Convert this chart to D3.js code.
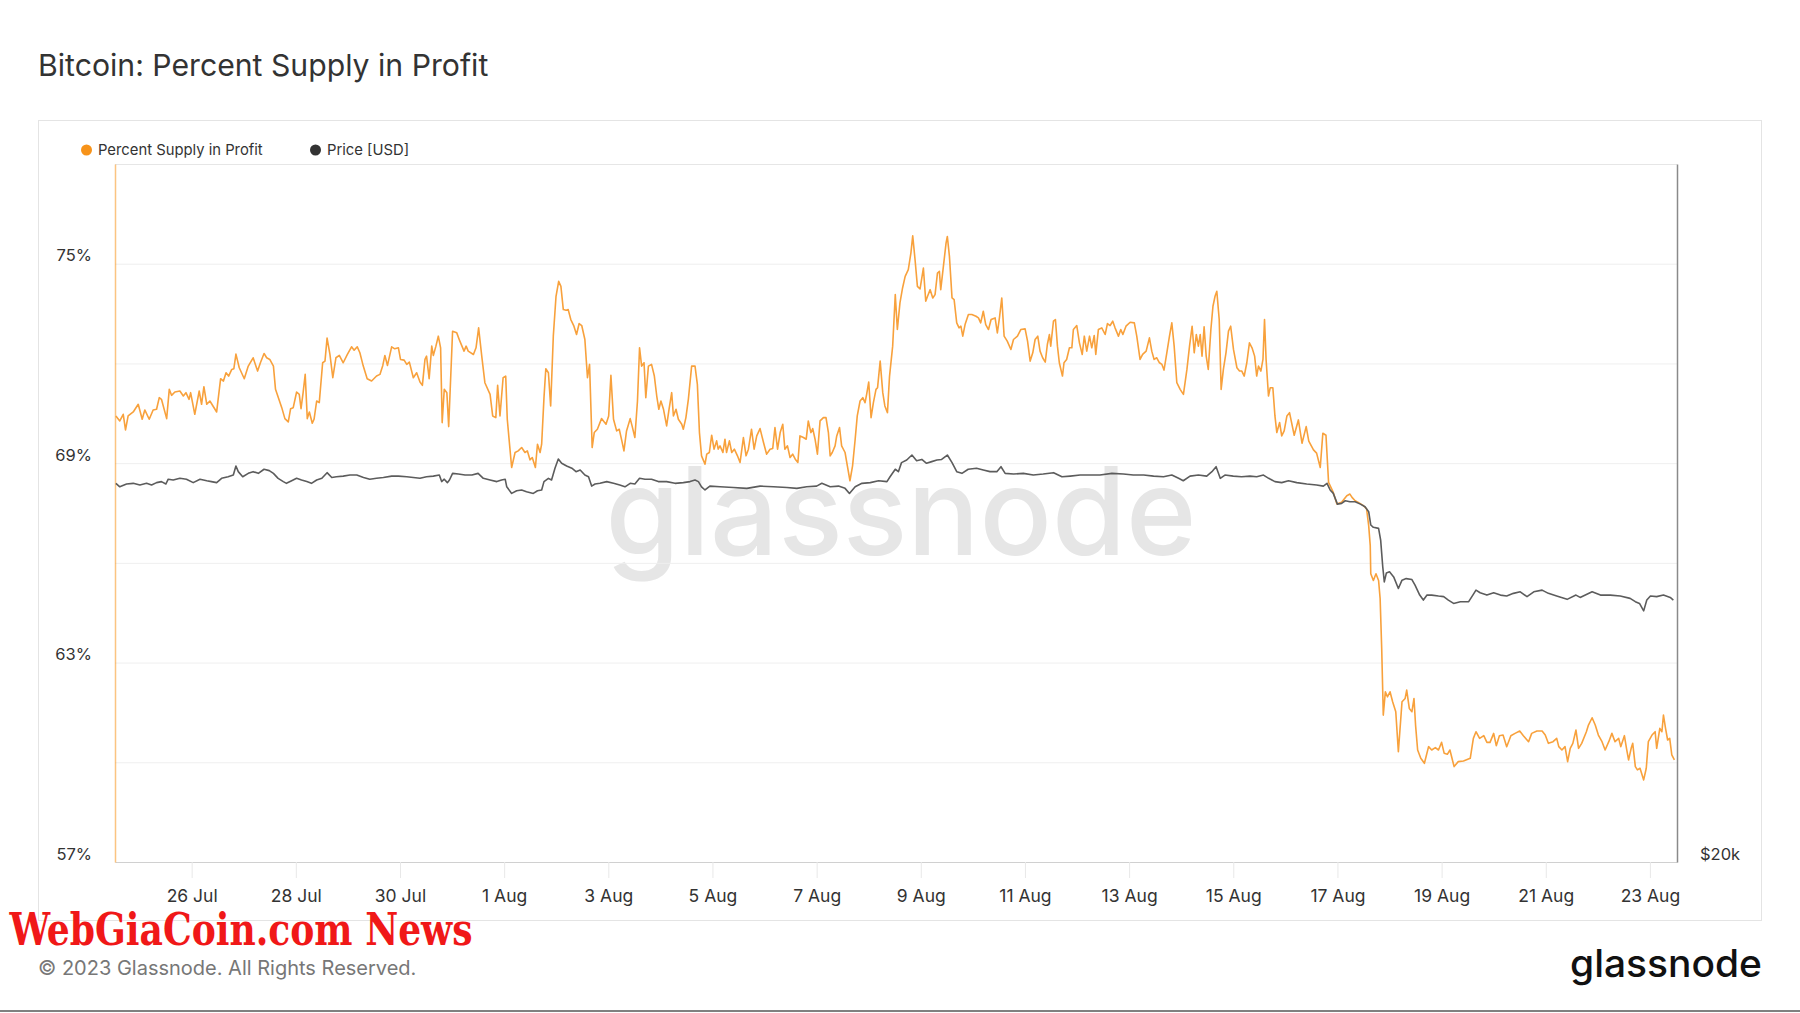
<!DOCTYPE html>
<html><head><meta charset="utf-8">
<script src="https://cdn.jsdelivr.net/npm/d3@7"></script>
<style>
body{margin:0;background:#fff;}
svg{display:block;font-family:Inter,"Open Sans",sans-serif;}
</style></head>
<body><svg id="c" width="1800" height="1013"></svg>
<script>
// ---------- DATA ----------
const titleText = "Bitcoin: Percent Supply in Profit";
const seriesNames = ["Percent Supply in Profit", "Price [USD]"];
const seriesColors = ["#f7931a", "#333333"];
const baseDate = Date.UTC(2023, 6, 24); // 24 Jul 2023 00:00 UTC, x values are days after it
const xDomainDays = [0.528, 30.52];
const xTickDays = [2, 4, 6, 8, 10, 12, 14, 16, 18, 20, 22, 24, 26, 28, 30];
const xTickLabels = ["26 Jul","28 Jul","30 Jul","1 Aug","3 Aug","5 Aug","7 Aug","9 Aug","11 Aug","13 Aug","15 Aug","17 Aug","19 Aug","21 Aug","23 Aug"];
const leftDomain = [57, 78];
const leftTickValues = [57, 63, 69, 75];
const gridValues = [60, 63, 66, 69, 72, 75];
const rightDomain = [20000, 40000];
const rightTickValues = [20000];
const rightTickLabels = ["$20k"];

// Percent Supply in Profit: [day, percent]
const psip = [
[0.545,70.42],[0.62,70.27],[0.686,70.47],[0.73,70.0],[0.78,70.42],[0.878,70.54],[0.974,70.77],[1.05,70.32],[1.10,70.6],[1.185,70.32],[1.26,70.6],[1.326,70.62],[1.378,70.97],[1.42,70.92],[1.52,70.34],[1.57,71.22],[1.614,71.04],[1.678,71.14],[1.774,71.17],[1.84,71.02],[1.89,71.12],[1.95,70.92],[1.98,71.12],[2.06,70.47],[2.145,71.17],[2.19,70.77],[2.235,71.3],[2.29,70.77],[2.35,70.87],[2.48,70.54],[2.556,71.54],[2.61,71.47],[2.66,71.72],[2.71,71.62],[2.77,71.82],[2.81,71.84],[2.85,72.28],[2.914,71.87],[3.01,71.54],[3.087,71.92],[3.18,72.17],[3.266,71.77],[3.32,72.02],[3.39,72.3],[3.44,72.17],[3.50,72.12],[3.57,71.92],[3.61,71.22],[3.73,70.67],[3.79,70.34],[3.855,70.24],[3.90,70.64],[3.95,70.67],[4.015,71.14],[4.066,71.07],[4.10,70.64],[4.14,71.12],[4.18,71.67],[4.22,70.34],[4.26,70.54],[4.316,70.2],[4.35,70.32],[4.40,70.87],[4.45,70.82],[4.515,72.02],[4.56,72.07],[4.60,72.76],[4.655,72.27],[4.71,71.57],[4.77,72.17],[4.835,72.24],[4.91,72.02],[4.99,72.27],[5.07,72.5],[5.12,72.4],[5.18,72.5],[5.23,72.32],[5.295,71.92],[5.37,71.54],[5.455,71.47],[5.55,71.62],[5.615,71.67],[5.67,71.94],[5.71,72.24],[5.76,71.94],[5.84,72.5],[5.90,72.44],[5.97,72.47],[6.01,72.12],[6.08,72.1],[6.13,71.97],[6.18,72.04],[6.256,71.57],[6.32,71.72],[6.384,71.44],[6.43,71.34],[6.48,72.12],[6.51,72.22],[6.56,71.54],[6.61,72.52],[6.64,72.24],[6.69,72.52],[6.736,72.82],[6.78,72.47],[6.81,70.22],[6.85,71.22],[6.90,71.12],[6.935,70.1],[7.01,72.97],[7.09,72.92],[7.15,72.67],[7.23,72.37],[7.27,72.52],[7.31,72.37],[7.41,72.27],[7.46,72.47],[7.51,73.07],[7.57,72.22],[7.63,71.42],[7.73,71.07],[7.78,70.42],[7.84,70.37],[7.875,71.34],[7.92,70.42],[7.98,71.57],[8.03,71.62],
[8.06,70.32],[8.144,68.87],[8.21,69.32],[8.27,69.37],[8.336,69.47],[8.40,69.32],[8.445,69.37],[8.496,69.1],[8.54,69.17],[8.60,68.87],[8.64,69.57],[8.69,69.32],[8.72,69.57],[8.765,70.97],[8.80,71.84],[8.85,71.72],[8.893,70.72],[8.944,72.82],[8.996,74.02],[9.047,74.47],[9.09,74.32],[9.136,73.62],[9.19,73.6],[9.23,73.62],[9.28,73.32],[9.34,73.12],[9.39,72.87],[9.44,73.2],[9.49,73.14],[9.55,72.72],[9.60,71.57],[9.64,71.97],[9.69,69.47],[9.73,69.92],[9.79,70.02],[9.87,70.34],[9.956,70.17],[10.007,70.42],[10.05,71.64],[10.10,70.32],[10.16,69.97],[10.21,70.02],[10.26,69.67],[10.30,69.37],[10.35,69.97],[10.42,70.34],[10.46,70.1],[10.51,69.77],[10.56,70.87],[10.60,72.47],[10.64,71.92],[10.686,72.02],[10.72,70.97],[10.77,71.92],[10.83,71.97],[10.884,71.62],[10.93,71.02],[10.97,70.62],[11.01,70.87],[11.06,70.62],[11.12,70.12],[11.166,70.62],[11.217,71.12],[11.25,70.42],[11.30,70.62],[11.345,70.32],[11.41,70.17],[11.44,70.02],[11.49,70.37],[11.537,70.92],[11.60,71.92],[11.665,71.92],[11.71,71.37],[11.75,69.92],[11.79,69.22],[11.857,68.97],[11.89,69.27],[11.94,69.32],[11.985,69.84],[12.03,69.42],[12.08,69.67],[12.11,69.42],[12.145,69.52],[12.20,69.32],[12.24,69.72],[12.27,69.32],[12.325,69.67],[12.37,69.32],[12.42,69.42],[12.48,69.22],[12.53,69.02],[12.594,69.77],[12.645,69.22],[12.69,69.42],[12.75,70.02],[12.80,69.42],[12.85,69.82],[12.914,70.04],[12.98,69.62],[13.04,69.27],[13.106,69.42],[13.157,69.44],[13.20,70.07],[13.25,69.42],[13.30,69.92],[13.35,70.17],[13.39,69.42],[13.44,69.52],[13.49,69.17],[13.54,69.27],[13.59,69.12],[13.64,69.02],[13.68,69.82],[13.746,69.77],[13.80,69.72],[13.84,70.27],[13.89,69.92],[13.925,70.04],[13.97,69.72],[14.015,69.27],[14.066,70.27],[14.13,70.37],[14.18,70.37],[14.226,69.92],[14.26,69.22],[14.30,69.32],[14.354,69.52],[14.386,69.82],[14.44,70.07],[14.48,69.52],[14.546,69.32],[14.59,68.92],[14.64,68.47],[14.69,68.92],[14.74,69.72],[14.78,70.42],[14.834,70.87],[14.886,70.97],[14.93,70.82],[14.96,71.07],[15.0,71.44],[15.045,70.37],[15.09,70.82],[15.14,71.22],[15.17,71.27],[15.22,72.07],[15.27,71.12],[15.31,70.72],[15.36,70.52],[15.40,71.62],
[15.46,72.52],[15.51,74.07],[15.55,73.02],[15.60,73.82],[15.65,74.27],[15.70,74.62],[15.76,74.82],[15.81,75.32],[15.845,75.84],[15.89,75.12],[15.935,74.32],[15.986,74.24],[16.05,74.87],[16.095,73.87],[16.13,74.02],[16.18,74.22],[16.23,73.97],[16.274,74.07],[16.32,74.72],[16.357,74.77],[16.383,74.22],[16.434,74.92],[16.485,75.62],[16.51,75.82],[16.55,75.22],[16.60,73.97],[16.64,73.92],[16.69,73.22],[16.735,73.07],[16.77,73.12],[16.806,72.82],[16.85,73.17],[16.914,73.47],[16.98,73.47],[17.06,73.42],[17.107,73.37],[17.15,73.22],[17.20,73.57],[17.247,73.17],[17.30,73.02],[17.35,73.32],[17.427,73.37],[17.47,72.92],[17.51,73.37],[17.555,73.97],[17.60,72.82],[17.66,72.67],[17.73,72.42],[17.78,72.72],[17.856,72.82],[17.92,73.02],[18.003,73.04],[18.05,72.67],[18.10,72.07],[18.15,72.32],[18.195,72.72],[18.246,72.82],[18.29,72.37],[18.34,72.17],[18.39,72.04],[18.43,72.57],[18.47,72.87],[18.495,72.52],[18.547,73.27],[18.585,73.32],[18.624,72.52],[18.66,72.02],[18.72,71.62],[18.75,72.02],[18.80,72.12],[18.854,72.47],[18.90,72.47],[18.93,73.02],[18.995,73.14],[19.046,72.62],[19.10,72.27],[19.14,72.82],[19.187,72.37],[19.24,72.82],[19.283,72.47],[19.33,72.84],[19.36,72.27],[19.41,73.02],[19.475,73.07],[19.54,72.87],[19.584,73.2],[19.635,73.14],[19.686,73.27],[19.73,73.07],[19.795,72.82],[19.84,73.02],[19.88,72.87],[19.94,73.12],[20.02,73.24],[20.10,73.22],[20.147,72.82],[20.21,72.12],[20.26,72.27],[20.327,72.37],[20.39,72.77],[20.435,72.37],[20.48,72.12],[20.53,72.17],[20.583,72.02],[20.63,71.97],[20.67,71.8],[20.724,72.32],[20.775,72.82],[20.82,73.22],[20.865,72.52],[20.916,71.42],[20.98,71.22],[21.043,71.07],[21.11,71.82],[21.16,72.52],[21.21,73.12],[21.25,72.32],[21.29,72.87],[21.33,72.52],[21.365,72.87],[21.40,72.22],[21.44,73.1],[21.48,72.22],[21.52,71.82],[21.57,73.02],[21.61,73.72],[21.65,74.02],[21.684,74.17],[21.73,73.32],[21.767,71.22],[21.81,71.82],[21.86,72.32],[21.908,72.97],[21.95,73.12],[22.004,72.42],[22.07,71.87],[22.12,71.77],[22.164,71.77],[22.21,71.62],[22.26,72.02],[22.31,72.62],[22.36,72.47],[22.41,72.22],[22.45,71.62],[22.484,71.92],[22.53,71.77],[22.57,72.12],[22.60,73.32],[22.63,72.12],[22.676,71.02],[22.71,71.27],[22.76,71.27],[22.80,70.42],[22.836,69.92],[22.89,70.22],[22.93,69.82],[22.977,69.97],[23.03,70.42],[23.08,70.52],
[23.17,69.84],[23.25,70.3],[23.32,69.6],[23.40,70.1],[23.45,69.66],[23.54,69.4],[23.6,69.3],[23.67,68.87],[23.72,69.9],[23.78,69.84],[23.83,68.42],[23.92,68.12],[23.99,67.77],[24.08,67.82],[24.18,68.02],[24.24,68.07],[24.28,67.97],[24.34,67.87],[24.40,67.82],[24.5,67.72],[24.56,67.62],[24.6,67.12],[24.63,66.52],[24.64,65.67],[24.69,65.47],[24.74,65.67],[24.79,65.47],[24.82,64.92],[24.85,63.42],[24.87,62.12],[24.88,61.42],[24.92,62.12],[24.96,61.97],[25.01,62.12],[25.06,61.82],[25.12,61.52],[25.17,60.32],[25.24,61.82],[25.3,61.92],[25.33,62.17],[25.38,61.62],[25.43,61.52],[25.47,61.92],[25.5,61.12],[25.54,60.37],[25.6,60.12],[25.67,59.97],[25.75,60.47],[25.81,60.37],[25.88,60.44],[25.94,60.37],[26.0,60.6],[26.05,60.27],[26.11,60.24],[26.16,60.37],[26.24,59.87],[26.32,60.02],[26.42,60.04],[26.55,60.12],[26.61,60.72],[26.66,60.92],[26.73,60.72],[26.81,60.8],[26.87,60.6],[26.93,60.6],[27.0,60.87],[27.05,60.5],[27.11,60.8],[27.18,60.82],[27.25,60.47],[27.33,60.8],[27.41,60.87],[27.5,60.94],[27.57,60.8],[27.67,60.62],[27.73,60.87],[27.83,60.94],[27.93,60.94],[27.99,60.82],[28.05,60.57],[28.14,60.62],[28.21,60.72],[28.25,60.47],[28.31,60.37],[28.37,60.47],[28.42,60.02],[28.47,60.42],[28.52,60.57],[28.58,60.97],[28.63,60.42],[28.69,60.57],[28.78,60.92],[28.82,61.12],[28.89,61.34],[28.95,61.12],[29.01,60.82],[29.08,60.62],[29.14,60.37],[29.21,60.62],[29.27,60.87],[29.33,60.62],[29.4,60.72],[29.44,60.47],[29.51,60.8],[29.55,60.42],[29.59,60.07],[29.64,60.42],[29.67,60.57],[29.72,59.87],[29.76,59.77],[29.81,59.82],[29.88,59.47],[29.93,59.82],[29.97,60.62],[30.04,60.82],[30.1,60.92],[30.13,60.42],[30.19,61.02],[30.23,60.92],[30.26,61.42],[30.3,61.02],[30.34,60.67],[30.38,60.72],[30.42,60.22],[30.47,60.07]
];

// Price [USD]: [day, price]
const price = [
[0.545,29130],[0.62,29030],[0.75,29110],[0.878,29130],[1.006,29080],[1.134,29130],[1.23,29080],[1.326,29150],[1.42,29180],[1.505,29110],[1.55,29250],[1.646,29226],[1.774,29275],[1.90,29250],[2.03,29150],[2.16,29250],[2.29,29205],[2.38,29180],[2.48,29150],[2.575,29275],[2.70,29320],[2.80,29370],[2.85,29636],[2.895,29470],[2.98,29320],[3.087,29420],[3.18,29470],[3.28,29420],[3.39,29540],[3.49,29500],[3.57,29420],[3.66,29275],[3.76,29180],[3.82,29130],[3.92,29205],[4.015,29275],[4.11,29226],[4.21,29180],[4.30,29130],[4.40,29226],[4.50,29275],[4.60,29440],[4.69,29300],[4.78,29320],[4.91,29340],[5.04,29370],[5.17,29370],[5.30,29300],[5.42,29250],[5.55,29275],[5.68,29300],[5.84,29340],[5.97,29340],[6.13,29320],[6.256,29300],[6.384,29275],[6.51,29320],[6.64,29340],[6.755,29370],[6.80,29180],[6.85,29250],[6.91,29150],[6.95,29226],[7.01,29420],[7.12,29400],[7.25,29370],[7.38,29370],[7.50,29420],[7.60,29275],[7.73,29226],[7.86,29180],[7.95,29226],[8.02,29250],
[8.05,29030],[8.144,28840],[8.24,28915],[8.336,28938],[8.43,28890],[8.56,28840],[8.64,28915],[8.72,28938],[8.765,29180],[8.85,29275],[8.91,29226],[8.976,29570],[9.04,29840],[9.104,29715],[9.20,29636],[9.30,29570],[9.38,29470],[9.46,29518],[9.55,29370],[9.62,29320],[9.68,29050],[9.745,29110],[9.84,29130],[9.97,29180],[10.10,29130],[10.22,29080],[10.32,29030],[10.42,29130],[10.51,29110],[10.60,29275],[10.705,29250],[10.83,29250],[10.96,29180],[11.12,29180],[11.28,29130],[11.44,29150],[11.57,29180],[11.665,29226],[11.73,29180],[11.79,29030],[11.857,28938],[11.95,29050],[12.145,29030],[12.40,29010],[12.66,28985],[12.914,29050],[13.17,29030],[13.43,29010],[13.62,28985],[13.81,29030],[14.0,29050],[14.10,29130],[14.26,29030],[14.42,29050],[14.546,28985],[14.63,28840],[14.74,29030],[14.87,29130],[15.03,29150],[15.19,29205],[15.35,29180],
[15.41,29320],[15.51,29540],[15.57,29470],[15.63,29735],[15.73,29812],[15.83,29960],[15.92,29790],[16.02,29830],[16.11,29715],[16.21,29765],[16.31,29812],[16.40,29830],[16.51,29960],[16.60,29735],[16.69,29470],[16.79,29420],[16.91,29540],[17.07,29570],[17.20,29518],[17.33,29470],[17.46,29470],[17.54,29615],[17.62,29420],[17.78,29400],[17.97,29420],[18.16,29370],[18.35,29400],[18.55,29440],[18.71,29320],[18.87,29340],[19.06,29370],[19.25,29370],[19.44,29370],[19.67,29420],[19.89,29400],[20.08,29370],[20.28,29370],[20.47,29340],[20.66,29320],[20.82,29370],[20.95,29275],[21.04,29205],[21.17,29340],[21.33,29370],[21.49,29340],[21.59,29470],[21.67,29615],[21.75,29275],[21.84,29370],[22.0,29340],[22.16,29320],[22.32,29340],[22.45,29320],[22.58,29370],[22.68,29275],[22.80,29180],[22.93,29150],[23.06,29205],
[23.22,29150],[23.41,29110],[23.60,29080],[23.73,29050],[23.80,29130],[23.86,28938],[23.92,28840],[24.0,28535],[24.08,28555],[24.15,28630],[24.24,28600],[24.34,28600],[24.44,28535],[24.53,28460],[24.60,28320],[24.64,27950],[24.69,27885],[24.79,27855],[24.83,27533],[24.87,26815],[24.90,26415],[24.94,26650],[25.0,26680],[25.08,26545],[25.17,26240],[25.24,26460],[25.32,26500],[25.43,26475],[25.49,26330],[25.58,26070],[25.65,25941],[25.72,26070],[25.81,26070],[25.94,26045],[26.04,26030],[26.13,25941],[26.23,25855],[26.36,25900],[26.52,25900],[26.60,26070],[26.66,26199],[26.74,26130],[26.87,26070],[27.0,26130],[27.13,26070],[27.25,26045],[27.38,26115],[27.51,26155],[27.64,26030],[27.77,26155],[27.93,26199],[28.05,26115],[28.21,26045],[28.41,25960],[28.58,26070],[28.66,26010],[28.89,26155],[29.05,26070],[29.24,26070],[29.43,26045],[29.62,25985],[29.72,25900],[29.80,25855],[29.88,25665],[29.94,25941],[30.01,26045],[30.13,26030],[30.26,26070],[30.39,26010],[30.45,25941]
];

// ---------- DRAW ----------
const W = 1800, H = 1013;
const P = {left:115, right:1677, top:164, bottom:862};
const toDate = d => new Date(baseDate + d * 864e5);
const svg = d3.select("#c");

const x = d3.scaleTime().domain(xDomainDays.map(toDate)).range([P.left, P.right]);
const yL = d3.scaleLinear().domain(leftDomain).range([P.bottom, P.top]);
const yR = d3.scaleLog().domain(rightDomain).range([P.bottom, P.top]);

svg.append("rect").attr("width", W).attr("height", H).attr("fill", "#fff");

// title
svg.append("text").attr("x", 38).attr("y", 76).attr("font-size", 30.2)
  .attr("fill", "#333").text(titleText);

// chart card
svg.append("rect").attr("x", 38.5).attr("y", 120.5).attr("width", 1723).attr("height", 800)
  .attr("fill", "#fff").attr("stroke", "#e4e4e4").attr("stroke-width", 1);

// legend
const legendX = [86.5, 315.5];
seriesNames.forEach((n, i) => {
  const g = svg.append("g").attr("transform", `translate(${legendX[i]},150)`);
  g.append("circle").attr("r", 5.5).attr("fill", seriesColors[i]);
  g.append("text").attr("x", 11.5).attr("y", 5.4).attr("font-size", 14.8).attr("fill", "#333").text(n);
});

// watermark
svg.append("text").attr("x", 901).attr("y", 555)
  .attr("text-anchor", "middle").attr("font-size", 122).attr("font-weight", 500)
  .attr("fill", "#e6e6e6").attr("textLength", 591).attr("lengthAdjust", "spacingAndGlyphs")
  .text("glassnode");

// grid
svg.append("g").selectAll("line").data(gridValues).join("line")
  .attr("x1", P.left).attr("x2", P.right)
  .attr("y1", d => yL(d) + 0.5).attr("y2", d => yL(d) + 0.5)
  .attr("stroke", "#efefef").attr("stroke-width", 1);

// plot frame top
svg.append("line").attr("x1", P.left).attr("x2", P.right).attr("y1", P.top + 0.5).attr("y2", P.top + 0.5)
  .attr("stroke", "#e6e6e6");

// x axis
const xAxis = d3.axisBottom(x)
  .tickValues(xTickDays.map(toDate))
  .tickFormat((d, i) => xTickLabels[i])
  .tickSizeInner(16).tickSizeOuter(0).tickPadding(11.5);
const gx = svg.append("g").attr("transform", `translate(0,${P.bottom})`).call(xAxis);
gx.select(".domain").attr("stroke", "#d0d0d0");
gx.selectAll(".tick line").attr("stroke", "#e8e8e8");
gx.selectAll(".tick text").attr("font-size", 17.5).attr("fill", "#333").attr("font-family", "Inter");

// left axis
const yAxisL = d3.axisLeft(yL).tickValues(leftTickValues).tickFormat(d => d + "%")
  .tickSize(0).tickPadding(23);
const gl = svg.append("g").attr("transform", `translate(${P.left},0)`).call(yAxisL);
gl.select(".domain").attr("stroke", "#f7931a").attr("stroke-opacity", 0.55).attr("stroke-width", 1.5);
gl.selectAll(".tick text").attr("font-size", 16.5).attr("fill", "#333").attr("font-family", "Inter").attr("dy", "-0.17em");

// right axis
const yAxisR = d3.axisRight(yR).tickValues(rightTickValues).tickFormat((d, i) => rightTickLabels[i])
  .tickSize(0).tickPadding(23);
const gr = svg.append("g").attr("transform", `translate(${P.right},0)`).call(yAxisR);
gr.select(".domain").attr("stroke", "#8a8a8a").attr("stroke-width", 1.5);
gr.selectAll(".tick text").attr("font-size", 16.5).attr("fill", "#333").attr("font-family", "Inter").attr("dy", "-0.17em");

// lines
svg.append("clipPath").attr("id", "clip").append("rect")
  .attr("x", P.left).attr("y", P.top).attr("width", P.right - P.left).attr("height", P.bottom - P.top);

const lineL = d3.line().x(d => x(toDate(d[0]))).y(d => yL(d[1]));
const lineR = d3.line().x(d => x(toDate(d[0]))).y(d => yR(d[1]));

svg.append("path").datum(psip).attr("d", lineL).attr("fill", "none")
  .attr("stroke", "#f8a13c").attr("stroke-width", 1.6).attr("stroke-linejoin", "round")
  .attr("clip-path", "url(#clip)");
svg.append("path").datum(price).attr("d", lineR).attr("fill", "none")
  .attr("stroke", "#5c5c5c").attr("stroke-width", 1.6).attr("stroke-linejoin", "round")
  .attr("clip-path", "url(#clip)");

// red site watermark
svg.append("g").attr("transform", "translate(9.5,945) scale(1,1.12)")
  .append("text").attr("x", 0).attr("y", 0).attr("font-size", 40).attr("font-weight", "bold")
  .attr("font-family", "'DejaVu Serif Condensed','DejaVu Serif',serif").attr("fill", "#f01818")
  .attr("textLength", 463).attr("lengthAdjust", "spacingAndGlyphs").text("WebGiaCoin.com News");

// footer
svg.append("text").attr("x", 38).attr("y", 975).attr("font-size", 20).attr("fill", "#777")
  .text("© 2023 Glassnode. All Rights Reserved.");
svg.append("text").attr("x", 1570).attr("y", 977).attr("font-size", 38).attr("font-weight", 500)
  .attr("fill", "#111").attr("textLength", 192).attr("lengthAdjust", "spacingAndGlyphs").text("glassnode");

// bottom rule
svg.append("rect").attr("x", 0).attr("y", 1010).attr("width", W).attr("height", 2).attr("fill", "#808080");
</script></body></html>
